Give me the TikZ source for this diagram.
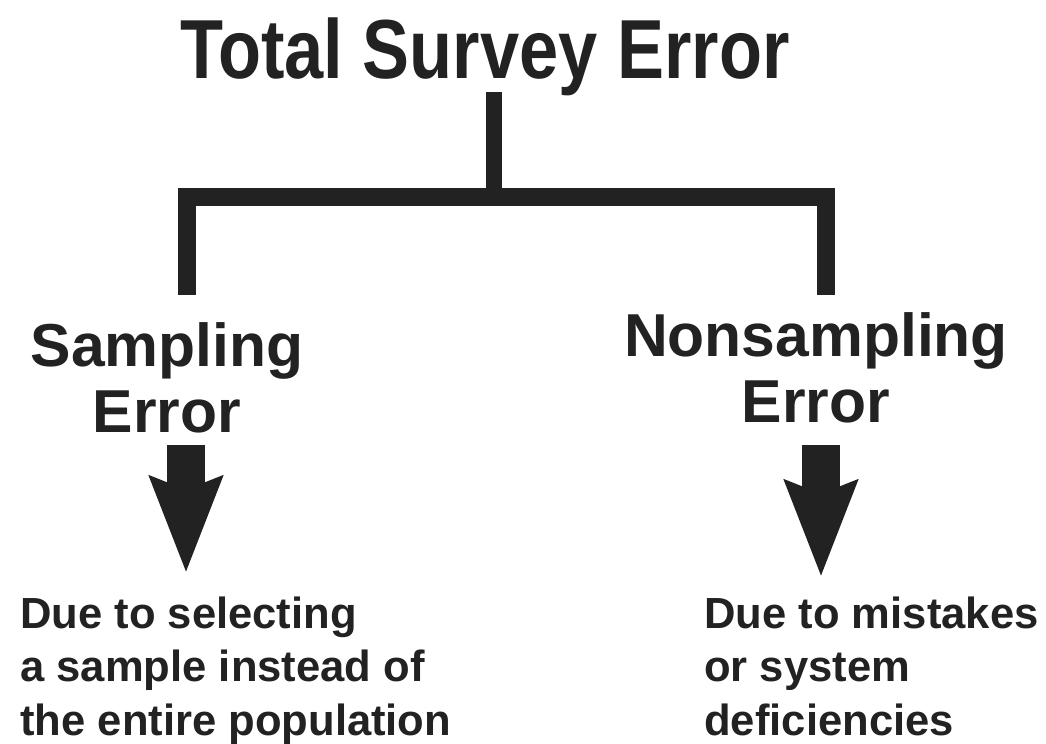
\documentclass[tikz,border=0pt]{standalone}
\usepackage{fontspec}
\setmainfont{Liberation Sans}
\usepackage{graphicx}
\usetikzlibrary{arrows.meta}

\definecolor{ink}{HTML}{222222}

\begin{document}
\begin{tikzpicture}[%
	x=0.02cm, y=-0.02cm,
	inner sep=0pt,
	head/.style={font=\fontsize{47.7}{50}\selectfont\bfseries, text=ink, anchor=base},
	branch/.style={font=\fontsize{34.5}{37.5}\selectfont\bfseries, text=ink, align=center, anchor=base},
	leaf/.style={font=\fontsize{24.8}{30.2}\selectfont\bfseries, text=ink, align=left, anchor=base west},
	stem/.style={draw=ink, line width=0.32cm},
	bar/.style={draw=ink, line width=0.36cm, line join=miter},
	fat/.style={draw=ink, line width=0.76cm, -{Stealth[length=1.9cm, width=1.4cm, inset=0.24cm]}}
]

\fill[white] (0,0) rectangle (1046,744);
\useasboundingbox (0,0) rectangle (1046,744);

\node[head] (root) at (485,78) {\scalebox{0.84}[1]{Total Survey Error}};

% base anchor sits on the last line
\node[branch] (samp) at (167,432) {Sampling\\Error};
\node[branch] (nonsamp) at (816,422) {Nonsampling\\Error};

\node[leaf] (sampwhy) at (20,735) {Due to selecting\\a sample instead of\\the entire population};
\node[leaf] (nonsampwhy) at (704,735) {Due to mistakes\\or system\\deficiencies};

\coordinate (stemtop) at (494,92);
\coordinate (barmid) at (494,197);
\coordinate (lleg) at (187,295);
\coordinate (rleg) at (826,295);

\coordinate (sampfrom) at (186,445);
\coordinate (sampto) at (186,573);
\coordinate (nonsampfrom) at (821,445);
\coordinate (nonsampto) at (821,577);

\path[stem] (stemtop) -- (barmid);
\path[bar] (lleg) |- (barmid) -| (rleg);

\path[fat] (sampfrom) -- (sampto);
\path[fat] (nonsampfrom) -- (nonsampto);

\end{tikzpicture}
\end{document}
